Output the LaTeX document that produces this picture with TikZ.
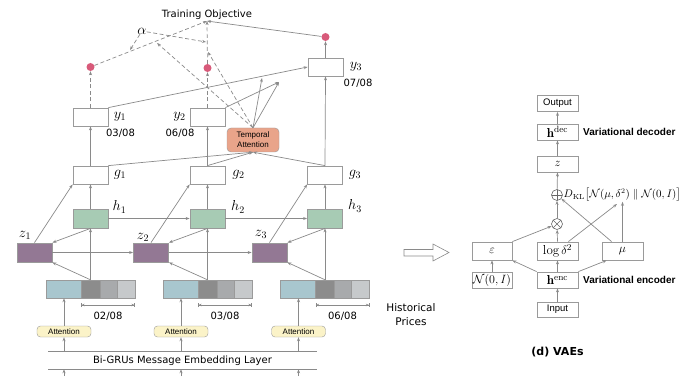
\documentclass[tikz,border=0pt]{standalone}
\usepackage{amsmath}
\usepackage{fontspec}
\usetikzlibrary{arrows.meta,positioning}
\newfontfamily\dvs{DejaVu Sans}
\newfontfamily\lsans{Liberation Sans}
\definecolor{linec}{HTML}{8A8A8A}
\definecolor{boxc}{HTML}{9A9A9A}
\definecolor{hcol}{HTML}{A7CBB4}
\definecolor{zcol}{HTML}{937894}
\definecolor{pblue}{HTML}{A8C6CE}
\definecolor{pdark}{HTML}{8C8C8C}
\definecolor{pmid}{HTML}{A8AAAC}
\definecolor{plight}{HTML}{C6C9CB}
\definecolor{dotc}{HTML}{D85A7A}
\definecolor{attc}{HTML}{FBF3C8}
\definecolor{tattc}{HTML}{E9A48A}
\tikzset{
  box/.style={draw=boxc, line width=0.8pt, fill=white, minimum width=35pt,
    minimum height=18pt, inner sep=0pt},
  hbox/.style={box, fill=hcol, minimum height=19pt},
  zbox/.style={box, fill=zcol, minimum height=19pt},
  dot/.style={circle, fill=dotc, minimum size=8pt, inner sep=0pt},
  lab/.style={inner sep=0pt, font=\fontsize{14.5}{16}\selectfont},
  txt/.style={inner sep=1pt, font=\dvs\fontsize{10}{12}\selectfont},
  att/.style={draw=boxc, fill=attc, rounded corners=3.5pt, minimum width=54pt,
    minimum height=11pt, inner sep=0pt, font=\lsans\fontsize{8}{9}\selectfont},
  arr/.style={draw=linec, line width=0.7pt, -{Stealth[length=4pt,width=3pt]}},
  darr/.style={arr, dash pattern=on 4pt off 2.5pt},
  spanline/.style={draw=linec, line width=0.6pt,
    {Bar[width=4pt]Stealth[length=3pt,width=2.5pt]}-{Stealth[length=3pt,width=2.5pt]Bar[width=4pt]}},
  seg/.style={draw=boxc, line width=0.6pt},
  vbox/.style={draw=boxc, line width=0.8pt, minimum width=41pt, minimum height=16pt,
    inner sep=0pt, font=\lsans\fontsize{9.5}{11}\selectfont},
  vmath/.style={vbox, font=\fontsize{13}{15}\selectfont},
  vlab/.style={anchor=west, inner sep=0pt, font=\lsans\bfseries\fontsize{10}{12}\selectfont},
  op/.style={circle, draw=black!60, line width=0.6pt, minimum size=11pt, inner sep=0pt}
}
\begin{document}
\begin{tikzpicture}[x=1pt, y=-1pt]
  \useasboundingbox (0,0) rectangle (683,377);

  % price bars
  \filldraw[seg, fill=pblue] (46,280) rectangle (81,298);
  \filldraw[seg, fill=pdark] (81,280) rectangle (100,298);
  \filldraw[seg, fill=pmid] (100,280) rectangle (117,298);
  \filldraw[seg, fill=plight] (117,280) rectangle (135,298);
  \filldraw[seg, fill=pblue] (163,280) rectangle (198,298);
  \filldraw[seg, fill=pdark] (198,280) rectangle (217,298);
  \filldraw[seg, fill=pmid] (217,280) rectangle (234,298);
  \filldraw[seg, fill=plight] (234,280) rectangle (252,298);
  \filldraw[seg, fill=pblue] (280.5,280) rectangle (315.5,298);
  \filldraw[seg, fill=pdark] (315.5,280) rectangle (334.5,298);
  \filldraw[seg, fill=pmid] (334.5,280) rectangle (351.5,298);
  \filldraw[seg, fill=plight] (351.5,280) rectangle (369.5,298);
  \node[minimum width=89pt, minimum height=18pt, inner sep=0pt] (p1) at (90.5,289) {};
  \node[minimum width=89pt, minimum height=18pt, inner sep=0pt] (p2) at (207.5,289) {};
  \node[minimum width=89pt, minimum height=18pt, inner sep=0pt] (p3) at (325,289) {};

  \coordinate (r1a) at (81,305);   \coordinate (r1b) at (135,305);
  \coordinate (r2a) at (198,305);  \coordinate (r2b) at (252,305);
  \coordinate (r3a) at (315.5,305); \coordinate (r3b) at (369.5,305);
  \draw[spanline] (r1a) -- (r1b);
  \draw[spanline] (r2a) -- (r2b);
  \draw[spanline] (r3a) -- (r3b);
  \node[txt] (rl1) at (108,316) {02/08};
  \node[txt] (rl2) at (225,316) {03/08};
  \node[txt] (rl3) at (342.5,316) {06/08};
  \node[txt, align=center, font=\dvs\fontsize{10.5}{14}\selectfont] (hist) at (411,315)
    {Historical\\Prices};

  % message side
  \node[att] (att1) at (64,331.5) {Attention};
  \node[att] (att2) at (181,331.5) {Attention};
  \node[att] (att3) at (298.5,331.5) {Attention};
  \node[txt, minimum width=268pt, minimum height=17pt, inner sep=0pt] (emb) at (182.5,360.5)
    {Bi-GRUs Message Embedding Layer};
  \draw[draw=linec, line width=0.8pt] (emb.north west) -- (emb.north east)
    (emb.south west) -- (emb.south east);

  % latent and hidden states
  \node[zbox] (z1) at (34.5,252.5) {};
  \node[zbox] (z2) at (151,252.5) {};
  \node[zbox] (z3) at (269.5,252.5) {};
  \node[hbox] (h1) at (90.5,218.5) {};
  \node[hbox] (h2) at (207.5,218.5) {};
  \node[hbox] (h3) at (325,218.5) {};
  \node[box] (g1) at (90.5,175) {};
  \node[box] (g2) at (207.5,175) {};
  \node[box] (g3) at (325,175) {};
  \node[box] (y1) at (90.5,117) {};
  \node[box] (y2) at (207.5,117) {};
  \node[box] (y3) at (325.5,67) {};

  \node[lab] (lz1) at (25,235) {$z_1$};
  \node[lab] (lz2) at (143,237) {$z_2$};
  \node[lab] (lz3) at (261,234) {$z_3$};
  \node[lab] (lh1) at (119.5,207) {$h_1$};
  \node[lab] (lh2) at (238,207) {$h_2$};
  \node[lab] (lh3) at (355,206) {$h_3$};
  \node[lab] (lg1) at (120,175) {$g_1$};
  \node[lab] (lg2) at (238.5,175) {$g_2$};
  \node[lab] (lg3) at (355,175) {$g_3$};
  \node[lab] (ly1) at (120,117) {$y_1$};
  \node[lab] (ly2) at (179.5,117) {$y_2$};
  \node[lab] (ly3) at (356,67) {$y_3$};
  \node[txt] (d1) at (120.5,133) {03/08};
  \node[txt] (d2) at (180,133) {06/08};
  \node[txt] (d3) at (358,83) {07/08};

  \node[draw=boxc, fill=tattc, rounded corners=4pt, minimum width=52pt, minimum height=24pt,
    inner sep=0pt, align=center, font=\lsans\fontsize{8}{10}\selectfont] (tatt) at (253,140)
    {Temporal\\Attention};

  \node[dot] (dot1) at (90.5,67) {};
  \node[dot] (dot2) at (207.5,68) {};
  \node[dot] (dot3) at (325.5,37) {};
  \node[txt] (obj) at (207,15) {Training Objective};
  \node[lab] (alpha) at (142,31) {$\alpha$};

  \coordinate (k1) at (262,78);
  \coordinate (k2) at (279,82);
  \coordinate (t1) at (157,43);
  \coordinate (t2) at (208,52);
  \coordinate (a1) at (130,50);
  \coordinate (a2) at (206,42);

  \draw[arr] (att1 |- 0,376) -- (att1 |- emb.south);
  \draw[arr] (att2 |- 0,376) -- (att2 |- emb.south);
  \draw[arr] (att3 |- 0,376) -- (att3 |- emb.south);
  \draw[arr] (att1 |- emb.north) -- (att1.south);
  \draw[arr] (att2 |- emb.north) -- (att2.south);
  \draw[arr] (att3 |- emb.north) -- (att3.south);
  \draw[arr] (att1.north) -- (att1 |- p1.south);
  \draw[arr] (att2.north) -- (att2 |- p2.south);
  \draw[arr] (att3.north) -- (att3 |- p3.south);

  \draw[arr] (p1.north) -- (h1.south);
  \draw[arr] (p2.north) -- (h2.south);
  \draw[arr] (p3.north) -- (h3.south);
  \draw[arr] (p1.north) -- (z1.south east);
  \draw[arr] (p2.north) -- (z2.south east);
  \draw[arr] (p3.north) -- (z3.south east);
  \draw[arr] (h1.south) -- (z1.north east);
  \draw[arr] (h2.south) -- (z2.north east);
  \draw[arr] (h3.south) -- (z3.north east);
  \draw[arr] (z1.east) -- (z2.west);
  \draw[arr] (z2.east) -- (z3.west);
  \draw[arr] (h1.east) -- (h2.west);
  \draw[arr] (h2.east) -- (h3.west);
  \draw[arr] (z1.north) -- (g1.south west);
  \draw[arr] (z2.north) -- (g2.south west);
  \draw[arr] (z3.north) -- (g3.south west);
  \draw[arr] (h1.north) -- (g1.south);
  \draw[arr] (h2.north) -- (g2.south);
  \draw[arr] (h3.north) -- (g3.south);

  \draw[arr] (g1.north) -- (y1.south);
  \draw[arr] (g2.north) -- (y2.south);
  \draw[arr] (g3.north) -- (y3.south);
  \draw[arr] (g1.north east) -- (tatt.south);
  \draw[arr] (g2.north) -- (tatt.south);
  \draw[arr] (g3.north) -- (tatt.south);
  \draw[arr] (y1.north east) -- (y3.west);
  \draw[arr] (y2.north east) -- (k2);
  \draw[arr] (tatt.north) -- (k2);
  \draw[arr] (tatt.north) -- (k1);

  \draw[darr] (y1.north) -- (dot1);
  \draw[darr] (y2.north) -- (dot2);
  \draw[arr] (y3.north) -- (dot3);
  \draw[darr] (dot1) -- (obj.south);
  \draw[darr] (dot2) -- (obj.south);
  \draw[arr] (dot3) -- (obj.south);
  \draw[darr] (alpha) -- (a1);
  \draw[darr] (alpha) -- (a2);
  \draw[darr] (tatt.north) -- (t1);
  \draw[darr] (tatt.north) -- (t2);

  % hollow arrow
  \draw[draw=linec, line width=0.6pt] (404,249.5) -- (433,249.5) -- (433,244) -- (449,252.5)
    -- (433,261) -- (433,256) -- (404,256) -- cycle;

  % VAE
  \node[vbox] (out) at (557.5,103.5) {Output};
  \node[vmath] (hdec) at (557.5,132) {$\mathbf{h}^{\mathrm{dec}}$};
  \node[vmath] (zz) at (557.5,164) {$z$};
  \node[op, path picture={\draw[black!60] (path picture bounding box.north) -- (path picture bounding box.south)
    (path picture bounding box.west) -- (path picture bounding box.east);}] (plus) at (557,195) {};
  \node[op, path picture={\draw[black!60] (path picture bounding box.north west) -- (path picture bounding box.south east)
    (path picture bounding box.north east) -- (path picture bounding box.south west);}] (times) at (557,224) {};
  \node[anchor=west, inner sep=0pt, font=\fontsize{10.5}{12}\selectfont] (dkl) at (563.5,195)
    {$D_{\mathrm{KL}}\big[\mathcal{N}(\mu,\delta^2)\parallel\mathcal{N}(0,I)\big]$};
  \node[vmath, minimum width=40pt, minimum height=18pt] (eps) at (492,251) {$\varepsilon$};
  \node[vmath, minimum height=18pt] (logd) at (557.5,251) {$\log\delta^2$};
  \node[vmath, minimum height=18pt] (mu) at (622.5,251) {$\mu$};
  \node[vmath, minimum width=40pt, font=\fontsize{12}{14}\selectfont] (nzero) at (492,280) {$\mathcal{N}(0,I)$};
  \node[vmath] (henc) at (557.5,280) {$\mathbf{h}^{\mathrm{enc}}$};
  \node[vbox, minimum height=15pt] (inp) at (557.5,309.5) {Input};
  \node[vlab] (vdec) at (583,132) {Variational decoder};
  \node[vlab] (venc) at (583,280) {Variational encoder};
  \node[font=\dvs\bfseries\fontsize{11}{12}\selectfont] (cap) at (557.5,352) {(d) VAEs};

  \draw[arr] (inp.north) -- (henc.south);
  \draw[arr] (nzero.north) -- (eps.south);
  \draw[arr] (henc.north) -- (logd.south);
  \draw[arr] (henc.north west) -- (eps.south east);
  \draw[arr] (henc.north east) -- ([xshift=5pt]mu.south west);
  \draw[arr] (eps.north east) -- (times);
  \draw[arr] (logd.north) -- (times);
  \draw[arr] ([xshift=-10pt]logd.north east) -- (617,204);
  \draw[arr] ([xshift=10pt]mu.north west) -- (plus);
  \draw[arr] (mu.north) -- (mu |- dkl.south);
  \draw[arr] (times) -- (plus);
  \draw[arr] (plus) -- (zz.south);
  \draw[arr] (zz.north) -- (hdec.south);
  \draw[arr] (hdec.north) -- (out.south);
\end{tikzpicture}
\end{document}
